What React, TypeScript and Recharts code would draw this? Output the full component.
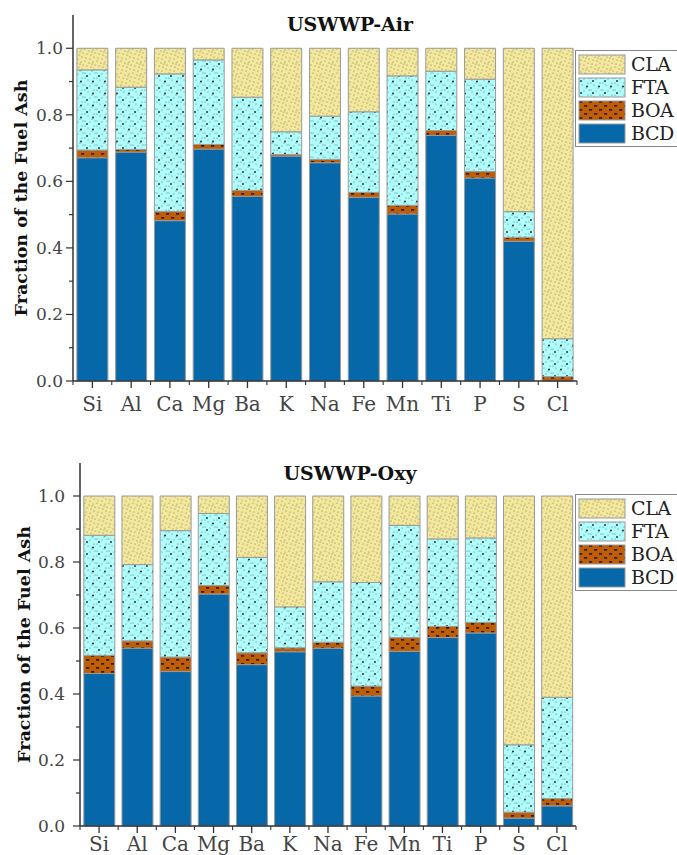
import { BarChart, Bar, XAxis, YAxis, Legend } from 'recharts';

const elements = ['Si', 'Al', 'Ca', 'Mg', 'Ba', 'K', 'Na', 'Fe', 'Mn', 'Ti', 'P', 'S', 'Cl'];

// USWWP-Air fractions
const airBCD = [0.671, 0.688, 0.482, 0.697, 0.555, 0.676, 0.656, 0.552, 0.502, 0.738, 0.61, 0.42, 0.0];
const airBOA = [0.023, 0.008, 0.028, 0.014, 0.018, 0.005, 0.01, 0.015, 0.026, 0.015, 0.02, 0.012, 0.013];
const airFTA = [0.241, 0.187, 0.413, 0.254, 0.28, 0.068, 0.13, 0.242, 0.389, 0.178, 0.277, 0.077, 0.114];
const airCLA = [0.065, 0.117, 0.077, 0.035, 0.147, 0.251, 0.204, 0.191, 0.083, 0.069, 0.093, 0.491, 0.873];

// USWWP-Oxy fractions
const oxyBCD = [0.462, 0.539, 0.468, 0.703, 0.489, 0.528, 0.539, 0.394, 0.529, 0.571, 0.585, 0.024, 0.061];
const oxyBOA = [0.055, 0.022, 0.044, 0.026, 0.036, 0.012, 0.018, 0.03, 0.042, 0.034, 0.032, 0.018, 0.022];
const oxyFTA = [0.364, 0.231, 0.383, 0.218, 0.289, 0.124, 0.183, 0.314, 0.34, 0.265, 0.256, 0.204, 0.307];
const oxyCLA = [0.119, 0.208, 0.105, 0.053, 0.186, 0.336, 0.26, 0.262, 0.089, 0.13, 0.127, 0.754, 0.61];

const yTicks = [0, 0.1, 0.2, 0.3, 0.4, 0.5, 0.6, 0.7, 0.8, 0.9, 1.0];

// stacking order, bottom to top
const series = [
  { key: 'BCD', fill: '#0667A9' },
  { key: 'BOA', fill: 'url(#pat-boa)' },
  { key: 'FTA', fill: 'url(#pat-fta)' },
  { key: 'CLA', fill: 'url(#pat-cla)' },
];
const legendOrder = ['CLA', 'FTA', 'BOA', 'BCD'];

const SERIF = '"DejaVu Serif", serif';
const W = 677;

const buildRows = (bcd: number[], boa: number[], fta: number[], cla: number[]) =>
  elements.map((el, i) => ({ el, BCD: bcd[i], BOA: boa[i], FTA: fta[i], CLA: cla[i] }));

const airRows = buildRows(airBCD, airBOA, airFTA, airCLA);
const oxyRows = buildRows(oxyBCD, oxyBOA, oxyFTA, oxyCLA);

const Patterns = () => (
  <svg width={0} height={0} style={{ position: 'absolute' }}>
    <defs>
      <pattern id="pat-cla" width="12" height="12" patternUnits="userSpaceOnUse">
        <rect width="12" height="12" fill="#F2E79A" />
        {[[1, 1], [5, 3], [9, 2], [3, 6], [7, 7], [11, 5], [2, 10], [6, 11], [10, 9], [8, 4]].map(([cx, cy], i) => (
          <circle key={i} cx={cx} cy={cy} r={0.5} fill="#6b6b50" />
        ))}
      </pattern>
      <pattern id="pat-fta" width="12" height="12" patternUnits="userSpaceOnUse">
        <rect width="12" height="12" fill="#AFFFFE" />
        {[[1, 1], [6, 2], [10, 6], [4, 8], [8, 11], [1, 6], [11, 1]].map(([cx, cy], i) => (
          <circle key={i} cx={cx} cy={cy} r={0.5} fill="#456" />
        ))}
        <circle cx={3} cy={4} r={0.95} fill="#222" />
        <circle cx={9} cy={9.5} r={0.95} fill="#222" />
      </pattern>
      <pattern id="pat-boa" width="10" height="8" patternUnits="userSpaceOnUse">
        <rect width="10" height="8" fill="#BF5E06" />
        <rect x={1} y={1.2} width={3.2} height={1.4} fill="#111" />
        <rect x={6} y={5.2} width={3.2} height={1.4} fill="#111" />
      </pattern>
    </defs>
  </svg>
);

interface ChartProps {
  title: string;
  rows: typeof airRows;
  top: number;
  height: number;
  marginTop: number;
  yWidth: number;
  right: number;
  xHeight: number;
  xLabelDy: number;
  yLabelGap: number;
  yTitleX: number;
  titleY: number;
  legendTop: number;
}

function StackChart(p: ChartProps) {
  const plotW = W - p.yWidth - p.right;
  const plotH = p.height - p.marginTop - p.xHeight;
  const band = plotW / elements.length;

  const XTick = (t: any) => {
    const { x, y, payload, index } = t;
    return (
      <g>
        <line x1={x} x2={x} y1={y} y2={y + 7} stroke="#333" strokeWidth={1.3} />
        <line x1={x - band / 2} x2={x - band / 2} y1={y} y2={y + 4} stroke="#333" strokeWidth={1.1} />
        {index === elements.length - 1 && (
          <line x1={x + band / 2} x2={x + band / 2} y1={y} y2={y + 4} stroke="#333" strokeWidth={1.1} />
        )}
        <text x={x} y={y + p.xLabelDy} textAnchor="middle" fontFamily={SERIF} fontSize={20} fill="#444">
          {payload.value}
        </text>
      </g>
    );
  };

  const YTick = (t: any) => {
    const { x, y, payload } = t;
    const major = Math.round(payload.value * 10) % 2 === 0;
    return (
      <g>
        <line x1={x - (major ? 7 : 4)} x2={x} y1={y} y2={y} stroke="#333" strokeWidth={1.2} />
        {major && (
          <text x={x - p.yLabelGap} y={y + 6} textAnchor="end" fontFamily={SERIF} fontSize={17} fill="#444">
            {payload.value.toFixed(1)}
          </text>
        )}
      </g>
    );
  };

  const LegendBox = (lp: any) => {
    const items = [...(lp.payload || [])].sort(
      (a: any, b: any) => legendOrder.indexOf(a.value) - legendOrder.indexOf(b.value)
    );
    return (
      <div style={{ border: '1.5px solid #888', background: '#fff', padding: '2px 0 1px 2px', width: 120 }}>
        {items.map((it: any) => (
          <div key={it.value} style={{ display: 'flex', alignItems: 'center', height: 23 }}>
            <svg width={49} height={21}>
              <rect x={1} y={1} width={46} height={19} fill={it.color} stroke="#999" />
            </svg>
            <span style={{ fontFamily: SERIF, fontSize: 19, marginLeft: 4, color: '#222', lineHeight: '21px', letterSpacing: -0.4 }}>
              {it.value}
            </span>
          </div>
        ))}
      </div>
    );
  };

  return (
    <div style={{ position: 'absolute', left: 0, top: p.top }}>
      <BarChart
        width={W}
        height={p.height}
        data={p.rows}
        margin={{ top: p.marginTop, right: p.right, bottom: 0, left: 0 }}
        barCategoryGap="10%"
      >
        <XAxis
          dataKey="el"
          interval={0}
          height={p.xHeight}
          tickSize={0}
          tickMargin={0}
          tickLine={false}
          tick={XTick}
          axisLine={{ stroke: '#333', strokeWidth: 1.5 }}
        />
        <YAxis
          type="number"
          domain={[0, 1.1]}
          ticks={yTicks}
          width={p.yWidth}
          tickSize={0}
          tickMargin={0}
          tickLine={false}
          tick={YTick}
          axisLine={{ stroke: '#333', strokeWidth: 1.5 }}
        />
        <Legend
          layout="horizontal"
          verticalAlign="middle"
          align="center"
          content={LegendBox}
          wrapperStyle={{ left: 575, top: p.legendTop, width: 125, height: 'auto' }}
        />
        {series.map((s) => (
          <Bar
            key={s.key}
            dataKey={s.key}
            name={s.key}
            stackId="a"
            fill={s.fill}
            stroke="#9a9a9a"
            strokeWidth={1}
            isAnimationActive={false}
          />
        ))}
        <text x={350} y={p.titleY} textAnchor="middle" fontFamily={SERIF} fontWeight="bold" fontSize={19} fill="#111">
          {p.title}
        </text>
        <text
          x={p.yTitleX}
          y={p.marginTop + plotH / 2}
          transform={`rotate(-90 ${p.yTitleX} ${p.marginTop + plotH / 2})`}
          textAnchor="middle"
          dominantBaseline="central"
          fontFamily={SERIF}
          fontWeight="bold"
          fontSize={17.5}
          fill="#111"
        >
          Fraction of the Fuel Ash
        </text>
      </BarChart>
    </div>
  );
}

export default function App() {
  return (
    <div style={{ position: 'absolute', left: 0, top: 0, width: W, height: 855, overflow: 'hidden', background: '#fff' }}>
      <Patterns />
      <StackChart
        title="USWWP-Air"
        rows={airRows}
        top={0}
        height={430}
        marginTop={15}
        yWidth={73}
        right={100}
        xHeight={49}
        xLabelDy={30}
        yLabelGap={10}
        yTitleX={21}
        titleY={31}
        legendTop={50}
      />
      <StackChart
        title="USWWP-Oxy"
        rows={oxyRows}
        top={430}
        height={425}
        marginTop={33}
        yWidth={80}
        right={101}
        xHeight={29}
        xLabelDy={25}
        yLabelGap={15}
        yTitleX={24}
        titleY={50}
        legendTop={64}
      />
    </div>
  );
}
